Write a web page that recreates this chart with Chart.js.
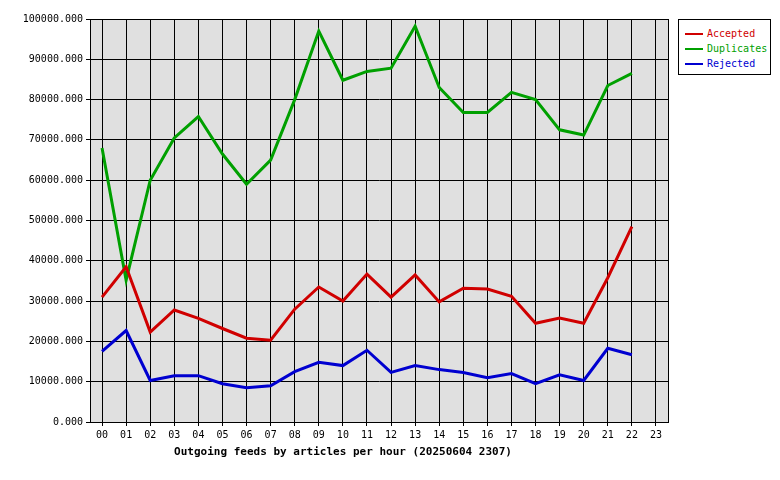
<!DOCTYPE html>
<html><head><meta charset="utf-8">
<script src="https://cdn.jsdelivr.net/npm/chart.js@4/dist/chart.umd.min.js"></script>
<style>
body{margin:0;background:#fff;}
#wrap{position:relative;width:780px;height:480px;}
#legend{position:absolute;left:678px;top:19px;width:93px;height:56px;border:1px solid #000;background:#fff;
  font:10px "DejaVu Sans Mono",monospace;box-sizing:border-box;padding-top:6px;}
#legend div{height:15px;line-height:15px;white-space:nowrap;}
#legend span{display:inline-block;width:18px;height:2px;vertical-align:middle;margin:0 4px 0 6px;}
</style></head><body>
<div id="wrap"><canvas id="c" width="780" height="480"></canvas>
<div id="legend">
<div style="color:#d00000"><span style="background:#d00000"></span>Accepted</div>
<div style="color:#00a000"><span style="background:#00a000"></span>Duplicates</div>
<div style="color:#0000d0"><span style="background:#0000d0"></span>Rejected</div>
</div></div>
<script>
const hours=["00","01","02","03","04","05","06","07","08","09","10","11","12","13","14","15","16","17","18","19","20","21","22","23"];
const accepted=[31000,38500,22300,27800,25700,23200,20800,20300,28000,33500,30000,36700,31000,36500,29800,33200,33000,31200,24500,25800,24500,35800,48500];
const duplicates=[68000,35200,60000,70500,75800,66500,59000,65000,80000,97000,84800,87000,87800,98200,83000,76800,76800,81800,80000,72500,71200,83500,86500];
const rejected=[17500,22700,10300,11500,11500,9500,8500,9000,12500,14800,14000,17800,12300,14000,13000,12300,11000,12000,9500,11700,10300,18300,16700];
const title="Outgoing feeds by articles per hour (20250604 2307)";

const bg={id:"bg",beforeDraw(ch){const a=ch.chartArea,x=ch.ctx;x.save();x.fillStyle="#e0e0e0";x.fillRect(a.left,a.top,a.right-a.left,a.bottom-a.top);x.restore();},
  afterDraw(ch){const a=ch.chartArea,x=ch.ctx;x.save();x.strokeStyle="#000";x.lineWidth=1;x.strokeRect(a.left+0.5,a.top+0.5,a.right-a.left,a.bottom-a.top);
    x.fillStyle="#000";x.font="bold 11px 'DejaVu Sans Mono', monospace";x.textAlign="center";x.textBaseline="middle";x.fillText(title,343,452);x.restore();}};
const font={family:"'DejaVu Sans Mono', monospace",size:10};
const ds=(d,c)=>({data:d,borderColor:c,borderWidth:3,pointRadius:0,tension:0,fill:false});
new Chart(document.getElementById("c"),{
  type:"line",
  data:{labels:hours,datasets:[ds(accepted,"#d00000"),ds(duplicates,"#00a000"),ds(rejected,"#0000d0")]},
  options:{responsive:false,animation:false,
    layout:{padding:{top:19,right:112,left:0,bottom:0}},
    plugins:{legend:{display:false},tooltip:{enabled:false}},
    scales:{
      x:{offset:true,grid:{color:"#000",offset:false,drawTicks:true,tickLength:4},border:{color:"#000"},
        ticks:{color:"#000",font,maxRotation:0,autoSkip:false},
        afterFit(s){s.height=58;}},
      y:{min:0,max:100000,grid:{color:"#000",tickLength:4},border:{color:"#000"},
        ticks:{stepSize:10000,color:"#000",font,callback:v=>v.toFixed(3)},
        afterFit(s){s.width=90;}}
    }},
  plugins:[bg]
});
</script></body></html>
